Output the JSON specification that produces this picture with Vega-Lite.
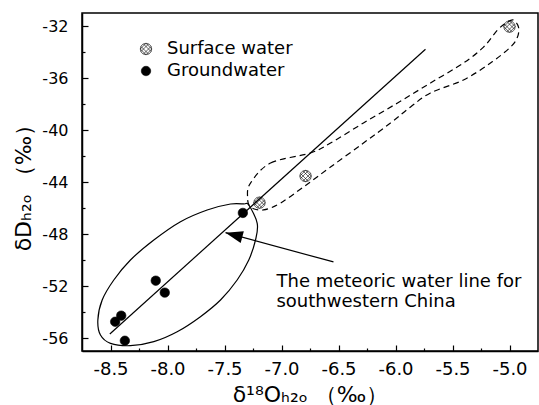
{
  "$schema": "https://vega.github.io/schema/vega-lite/v6.json",
  "width": 456,
  "height": 338,
  "autosize": {"type": "none"},
  "padding": {"left": 82, "top": 13, "right": 1, "bottom": 54},
  "background": "white",
  "config": {
    "view": {"stroke": "black", "strokeWidth": 1.5},
    "font": "DejaVu Sans"
  },
  "datasets": {
    "samples": [
      {"d18O": -8.459, "dD": -54.75, "type": "Groundwater"},
      {"d18O": -8.406, "dD": -54.28, "type": "Groundwater"},
      {"d18O": -8.374, "dD": -56.21, "type": "Groundwater"},
      {"d18O": -8.103, "dD": -51.59, "type": "Groundwater"},
      {"d18O": -8.024, "dD": -52.51, "type": "Groundwater"},
      {"d18O": -7.339, "dD": -46.38, "type": "Groundwater"},
      {"d18O": -7.193, "dD": -45.59, "type": "Surface water"},
      {"d18O": -6.789, "dD": -43.54, "type": "Surface water"},
      {"d18O": -5.0, "dD": -32.05, "type": "Surface water"}
    ],
    "mwl": [
      {"d18O": -8.506, "dD": -55.69},
      {"d18O": -5.737, "dD": -33.79}
    ],
    "ellipse": [
      {"i": 1, "d18O": -7.331, "dD": -45.69},
      {"i": 2, "d18O": -7.287, "dD": -45.77},
      {"i": 3, "d18O": -7.213, "dD": -47.18},
      {"i": 4, "d18O": -7.228, "dD": -48.46},
      {"i": 5, "d18O": -7.287, "dD": -50.0},
      {"i": 6, "d18O": -7.389, "dD": -51.54},
      {"i": 7, "d18O": -7.535, "dD": -53.08},
      {"i": 8, "d18O": -7.711, "dD": -54.36},
      {"i": 9, "d18O": -7.915, "dD": -55.52},
      {"i": 10, "d18O": -8.12, "dD": -56.28},
      {"i": 11, "d18O": -8.325, "dD": -56.59},
      {"i": 12, "d18O": -8.5, "dD": -56.41},
      {"i": 13, "d18O": -8.588, "dD": -55.77},
      {"i": 14, "d18O": -8.611, "dD": -54.62},
      {"i": 15, "d18O": -8.573, "dD": -53.08},
      {"i": 16, "d18O": -8.471, "dD": -51.54},
      {"i": 17, "d18O": -8.325, "dD": -50.0},
      {"i": 18, "d18O": -8.12, "dD": -48.46},
      {"i": 19, "d18O": -7.886, "dD": -47.05},
      {"i": 20, "d18O": -7.652, "dD": -46.15},
      {"i": 21, "d18O": -7.447, "dD": -45.69}
    ],
    "outline": [
      {"i": 1, "d18O": -7.272, "dD": -44.08},
      {"i": 2, "d18O": -7.096, "dD": -42.54},
      {"i": 3, "d18O": -6.746, "dD": -41.77},
      {"i": 4, "d18O": -6.57, "dD": -41.0},
      {"i": 5, "d18O": -6.281, "dD": -39.46},
      {"i": 6, "d18O": -5.982, "dD": -37.92},
      {"i": 7, "d18O": -5.693, "dD": -36.38},
      {"i": 8, "d18O": -5.404, "dD": -34.85},
      {"i": 9, "d18O": -5.228, "dD": -33.62},
      {"i": 10, "d18O": -5.105, "dD": -32.31},
      {"i": 11, "d18O": -5.018, "dD": -31.69},
      {"i": 12, "d18O": -4.965, "dD": -31.54},
      {"i": 13, "d18O": -4.921, "dD": -32.08},
      {"i": 14, "d18O": -4.93, "dD": -32.85},
      {"i": 15, "d18O": -4.991, "dD": -33.62},
      {"i": 16, "d18O": -5.167, "dD": -34.85},
      {"i": 17, "d18O": -5.404, "dD": -36.15},
      {"i": 18, "d18O": -5.693, "dD": -37.15},
      {"i": 19, "d18O": -5.868, "dD": -38.23},
      {"i": 20, "d18O": -6.044, "dD": -39.46},
      {"i": 21, "d18O": -6.281, "dD": -41.0},
      {"i": 22, "d18O": -6.57, "dD": -42.85},
      {"i": 23, "d18O": -6.807, "dD": -44.38},
      {"i": 24, "d18O": -7.009, "dD": -45.62},
      {"i": 25, "d18O": -7.158, "dD": -46.15},
      {"i": 26, "d18O": -7.272, "dD": -45.92},
      {"i": 27, "d18O": -7.298, "dD": -45.15}
    ],
    "arrow": [
      {"i": 1, "d18O": -6.544, "dD": -50.15},
      {"i": 2, "d18O": -7.491, "dD": -47.9}
    ],
    "arrowhead": [
      {"d18O": -7.491, "dD": -47.9}
    ],
    "note": [
      {"d18O": -7.044, "dD": -52.1, "label": ["The meteoric water line for", "southwestern China"]}
    ]
  },
  "encoding": {
    "x": {
      "field": "d18O",
      "type": "quantitative",
      "scale": {"domain": [-8.75, -4.75], "nice": false, "zero": false},
      "axis": {
        "title": "δ¹⁸Oₕ₂ₒ （‰）",
        "values": [-8.5, -8.25, -8.0, -7.75, -7.5, -7.25, -7.0, -6.75, -6.5, -6.25, -6.0, -5.75, -5.5, -5.25, -5.0],
        "labelExpr": "datum.value*2 == round(datum.value*2) ? replace(format(datum.value, '.1f'), '−', '-') : ''",
        "tickSize": {"condition": {"test": "datum.value*2 == round(datum.value*2)", "value": -6}, "value": -3},
        "grid": false,
        "domainColor": "black",
        "domainWidth": 1.5,
        "tickColor": "black",
        "tickWidth": 1.2,
        "labelFont": "DejaVu Sans",
        "labelFontSize": 18,
        "labelColor": "black",
        "labelPadding": 15,
        "labelFlush": false,
        "labelOverlap": false,
        "titleFont": "DejaVu Sans",
        "titleFontSize": 22,
        "titleFontWeight": "normal",
        "titleColor": "black",
        "titlePadding": 3
      }
    },
    "y": {
      "field": "dD",
      "type": "quantitative",
      "scale": {"domain": [-57, -31], "nice": false, "zero": false},
      "axis": {
        "title": "δDₕ₂ₒ （‰）",
        "values": [-56, -54, -52, -50, -48, -46, -44, -42, -40, -38, -36, -34, -32],
        "labelExpr": "datum.value % 4 == 0 ? '' + datum.value : ''",
        "tickSize": {"condition": {"test": "datum.value % 4 == 0", "value": -6}, "value": -3},
        "grid": false,
        "domainColor": "black",
        "domainWidth": 1.5,
        "tickColor": "black",
        "tickWidth": 1.2,
        "labelFont": "DejaVu Sans",
        "labelFontSize": 16,
        "labelColor": "black",
        "labelPadding": 20,
        "labelFlush": false,
        "labelOverlap": false,
        "titleFont": "DejaVu Sans",
        "titleFontSize": 22,
        "titleFontWeight": "normal",
        "titleColor": "black",
        "titlePadding": 6
      }
    }
  },
  "layer": [
    {
      "data": {"name": "ellipse"},
      "mark": {"type": "line", "interpolate": "cardinal-closed", "color": "black", "strokeWidth": 1.2},
      "encoding": {"order": {"field": "i", "type": "quantitative"}}
    },
    {
      "data": {"name": "outline"},
      "mark": {"type": "line", "interpolate": "cardinal-closed", "color": "black", "strokeWidth": 1.2, "strokeDash": [6, 4]},
      "encoding": {"order": {"field": "i", "type": "quantitative"}}
    },
    {
      "data": {"name": "mwl"},
      "mark": {"type": "line", "color": "black", "strokeWidth": 1.2},
      "encoding": {}
    },
    {
      "data": {"name": "arrow"},
      "mark": {"type": "line", "color": "black", "strokeWidth": 1.2},
      "encoding": {"order": {"field": "i", "type": "quantitative"}}
    },
    {
      "data": {"name": "arrowhead"},
      "mark": {"type": "point", "shape": "M0,0L-2,-0.7L-2,0.7Z", "size": 300, "angle": 195, "filled": true, "color": "black", "opacity": 1}
    },
    {
      "data": {"name": "samples"},
      "mark": {"type": "point", "stroke": "black", "strokeWidth": 0.6, "opacity": 1},
      "encoding": {
        "shape": {
          "field": "type",
          "type": "nominal",
          "scale": {
            "domain": ["Surface water", "Groundwater"],
            "range": ["M-1,0A1,1,0,1,0,1,0A1,1,0,1,0,-1,0Z M0,-1L1,0 M-0.45,-0.89L0.89,0.45 M-0.89,-0.45L0.45,0.89 M-1,0L0,1 M0,1L1,0 M-0.45,0.89L0.89,-0.45 M-0.89,0.45L0.45,-0.89 M-1,0L0,-1", "circle"]
          },
          "legend": {
            "orient": "none",
            "legendX": 55,
            "legendY": 27,
            "title": null,
            "padding": 0,
            "labelFont": "DejaVu Sans",
            "labelFontSize": 18,
            "labelColor": "black",
            "labelOffset": 12,
            "rowPadding": 4,
            "symbolStrokeColor": "black",
            "symbolStrokeWidth": 0.6
          }
        },
        "fill": {
          "field": "type",
          "type": "nominal",
          "scale": {"domain": ["Surface water", "Groundwater"], "range": ["transparent", "black"]}
        },
        "size": {
          "field": "type",
          "type": "nominal",
          "scale": {"domain": ["Surface water", "Groundwater"], "range": [130, 90]}
        }
      }
    },
    {
      "data": {"name": "note"},
      "mark": {"type": "text", "align": "left", "baseline": "alphabetic", "font": "DejaVu Sans", "fontSize": 18, "lineHeight": 20, "color": "black"},
      "encoding": {"text": {"field": "label"}}
    }
  ]
}
